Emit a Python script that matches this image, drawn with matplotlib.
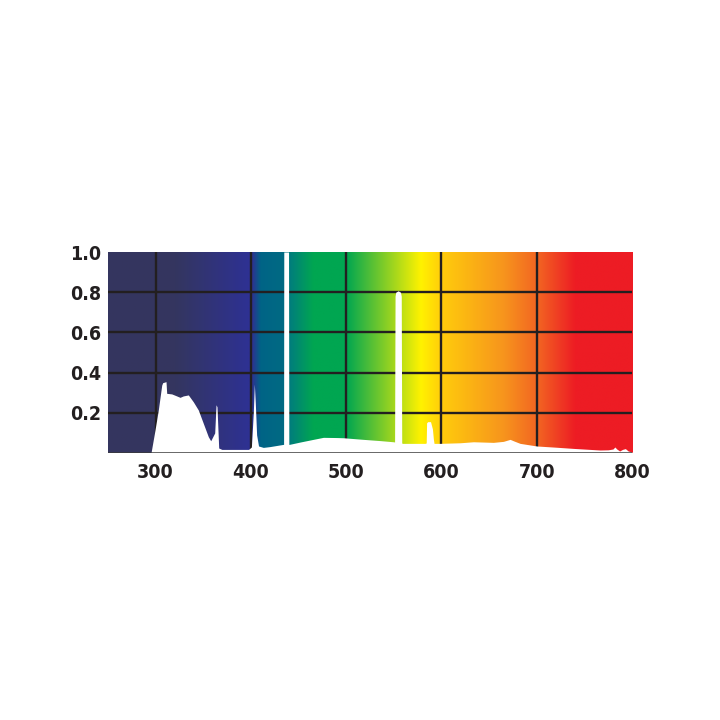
import numpy as np
import matplotlib
matplotlib.use('Agg')
from matplotlib import pyplot as plt
from matplotlib.colors import to_rgb

# Spectrum (wavelength in nm, relative intensity)
wavelength = [295.1, 299.3, 302.8, 306.4, 307.4, 310.9, 311.6, 316.9, 322.1, 325.6,
              329.0, 334.3, 339.5, 344.8, 350.0, 355.3, 357.8, 362.0, 363.4, 364.4,
              366.2, 367.6, 369.5, 397.5, 400.5, 402.5, 403.6, 404.6, 406.0, 408.0,
              413.0, 420.0, 434.0, 434.3, 434.5, 439.5, 439.8, 440.3, 452.0, 465.5,
              476.0, 490.0, 497.0, 518.0, 535.0, 549.5, 550.8, 551.3, 552.0, 554.5,
              557.0, 557.8, 558.3, 559.0, 582.7, 584.0, 584.4, 585.5, 588.5, 590.5,
              591.5, 592.2, 598.5, 619.5, 633.5, 654.5, 665.0, 672.0, 676.0, 682.5,
              700.0, 720.0, 738.5, 766.5, 775.0, 780.0, 782.0, 784.0, 787.0, 790.0,
              793.0, 796.0, 800.0]
intensity = [0.0, 0.114, 0.214, 0.338, 0.350, 0.355, 0.297, 0.294, 0.284, 0.277,
             0.284, 0.289, 0.255, 0.214, 0.148, 0.081, 0.061, 0.10, 0.24, 0.23,
             0.025, 0.022, 0.018, 0.018, 0.030, 0.20, 0.343, 0.25, 0.09, 0.035,
             0.028, 0.032, 0.043, 0.043, 1.0, 1.0, 0.043, 0.043, 0.055, 0.068,
             0.078, 0.077, 0.076, 0.068, 0.062, 0.056, 0.055, 0.78, 0.80, 0.807,
             0.80, 0.78, 0.05, 0.048, 0.048, 0.05, 0.150, 0.156, 0.156, 0.12,
             0.07, 0.048, 0.048, 0.051, 0.056, 0.053, 0.058, 0.068, 0.060, 0.048,
             0.035, 0.029, 0.023, 0.015, 0.016, 0.020, 0.030, 0.020, 0.010, 0.018,
             0.022, 0.010, 0.005]

# background colour stops
stop_nm = [250, 320, 396, 401, 410, 434, 442, 465, 500, 578, 600, 665, 700, 740, 800]
stop_colors = ['#35355f', '#34365f', '#2e3192', '#2e3192', '#006486', '#006a83',
               '#00807a', '#00a651', '#00a651', '#fff200', '#ffcc0c', '#f7941d',
               '#f26522', '#ed1c24', '#ed1c24']

x_ticks = [300, 400, 500, 600, 700, 800]
y_ticks = [0.2, 0.4, 0.6, 0.8, 1.0]

plt.rcParams['font.family'] = ['DejaVu Sans']
plt.rcParams['font.stretch'] = 'condensed'

fig = plt.figure(figsize=(7.2, 7.2), dpi=100)
ax = fig.add_axes([0.15, 0.3708, 0.7278, 0.2792])

xs = np.linspace(250, 800, 1101)
rgb = np.array([to_rgb(c) for c in stop_colors])
grad = np.stack([np.interp(xs, stop_nm, rgb[:, i]) for i in range(3)], axis=-1)
ax.imshow(grad[np.newaxis, :, :], extent=[250, 800, 0, 1], aspect='auto',
          interpolation='bilinear', zorder=0)

for x in x_ticks[:-1]:
    ax.axvline(x, color='#231f20', lw=1.7, zorder=1)
for y in y_ticks[:-1]:
    ax.axhline(y, color='#231f20', lw=1.7, zorder=1)

ax.fill_between(wavelength, 0, intensity, color='white', lw=0, zorder=2)
ax.axhline(0, color='#3a3a3a', lw=1.8, zorder=3)

ax.set_xlim(250, 800)
ax.set_ylim(0, 1.0)
ax.set_xticks(x_ticks)
ax.set_xticklabels([str(t) for t in x_ticks])
ax.set_yticks(y_ticks)
ax.set_yticklabels(['%.1f' % t for t in y_ticks])
ax.tick_params(length=0, labelsize=14, labelcolor='#231f20')
ax.tick_params(axis='x', pad=7)
ax.tick_params(axis='y', pad=5)
for lab in ax.get_xticklabels() + ax.get_yticklabels():
    lab.set_fontweight('bold')
    lab.set_fontstretch('condensed')
for s in ax.spines.values():
    s.set_visible(False)

fig.savefig('out.png', dpi=100)
